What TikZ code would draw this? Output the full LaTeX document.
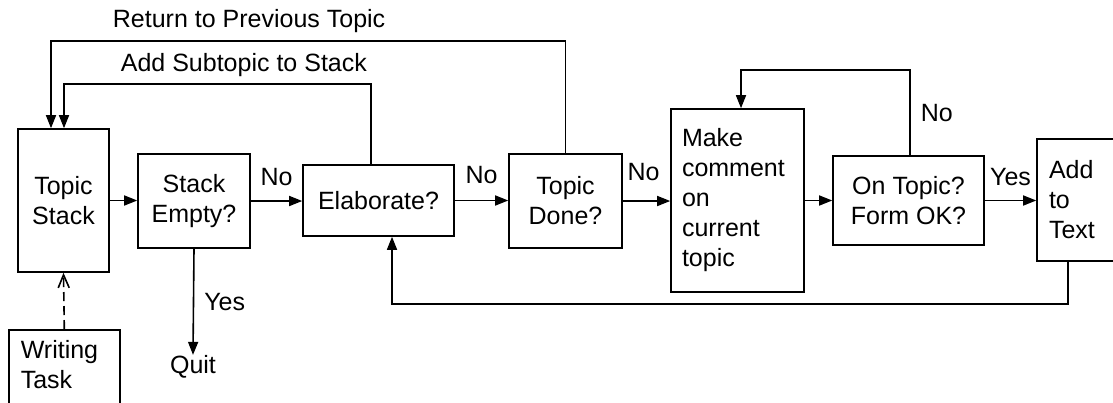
\documentclass[tikz,border=0pt]{standalone}
\usepackage{fontspec}
\setmainfont{Liberation Sans}
\usetikzlibrary{arrows.meta}
\begin{document}
\begin{tikzpicture}[x=1pt,y=-1pt,
  every node/.style={font=\fontsize{25}{30}\selectfont},
  frame/.style={draw, line width=1.6pt},
  stepbox/.style={frame, inner sep=0pt, align=center},
  flow/.style={line width=1.6pt, -{Triangle[length=13pt,width=10pt]}},
  lbl/.style={inner sep=0pt}]

% page area
\path[use as bounding box, clip] (0,0) rectangle (1113,402);

% process boxes
\node[stepbox, minimum width=91pt, minimum height=143pt] (ts) at (63.5,200.5) {Topic\\Stack};
\node[stepbox, minimum width=112pt, minimum height=94pt] (se) at (194,201) {Stack\\Empty?};
\node[stepbox, minimum width=151pt, minimum height=71pt] (el) at (378.5,200.5) {Elaborate?};
\node[stepbox, minimum width=113pt, minimum height=94pt] (td) at (565.5,201) {Topic\\Done?};
\node[stepbox, minimum width=133pt, minimum height=183pt, align=left, text width=111pt] (mc) at (737.5,200.5) {Make\\comment\\on\\current\\topic};
\node[stepbox, minimum width=151pt, minimum height=89pt] (ot) at (908.5,200.5) {On Topic?\\Form OK?};
\node[stepbox, minimum width=100pt, minimum height=122pt, align=left, text width=76pt] (at) at (1087,200) {Add\\to\\Text};
\node[frame, anchor=north west, inner xsep=12pt, inner ysep=11pt] (wt) at (8,329)
  {\begin{minipage}[c][90pt][t]{87pt}Writing\\Task\end{minipage}};
\node[lbl] (quit) at (193,366.5) {Quit};

% main flow
\draw[flow] (ts.east) -- (ts.east -| se.west);
\draw[flow] (se.east) -- node[lbl, above=14pt]{No} (se.east -| el.west);
\draw[flow] (el.east) -- node[lbl, above=16pt]{No} (el.east -| td.west);
\draw[flow] (td.east) -- node[lbl, above=19pt, xshift=-3pt]{No} (td.east -| mc.west);
\draw[flow] (mc.east) -- (mc.east -| ot.west);
\draw[flow] (ot.east) -- node[lbl, above=14pt]{Yes} (ot.east -| at.west);
\draw[flow] (se.south) -- node[lbl, right=10pt]{Yes} (quit.north);

% writing task feeds the stack
\draw[line width=1.6pt, dash pattern=on 9pt off 5pt,
  -{Straight Barb[length=13pt,width=11pt]}] (wt.north) -- (ts.south);

% feedback loops
\coordinate (tsR) at ([xshift=-12.5pt]ts.north);
\coordinate (tsA) at ([xshift=0.5pt]ts.north);
\coordinate (elA) at ([xshift=-7.5pt]el.north);
\coordinate (otA) at ([xshift=1.5pt]ot.north);
\coordinate (mcA) at ([xshift=3.5pt]mc.north);
\coordinate (atB) at ([xshift=32pt]at.south west);
\coordinate (elB) at ([xshift=13.5pt]el.south);

\draw[flow] (td.north) -- (td.north |- 0,41)
  -- node[lbl, above=8pt, pos=0.615]{Return to Previous Topic} (tsR |- 0,41) -- (tsR);
\draw[flow] (elA) -- (elA |- 0,84)
  -- node[lbl, above=7pt, pos=0.414]{Add Subtopic to Stack} (tsA |- 0,84) -- (tsA);
\draw[flow] (otA) -- node[lbl, right=10pt]{No} (otA |- 0,70) -- (mcA |- 0,70) -- (mcA);
\draw[flow] (atB) -- (atB |- 0,304) -- (elB |- 0,304) -- (elB);
\end{tikzpicture}
\end{document}
